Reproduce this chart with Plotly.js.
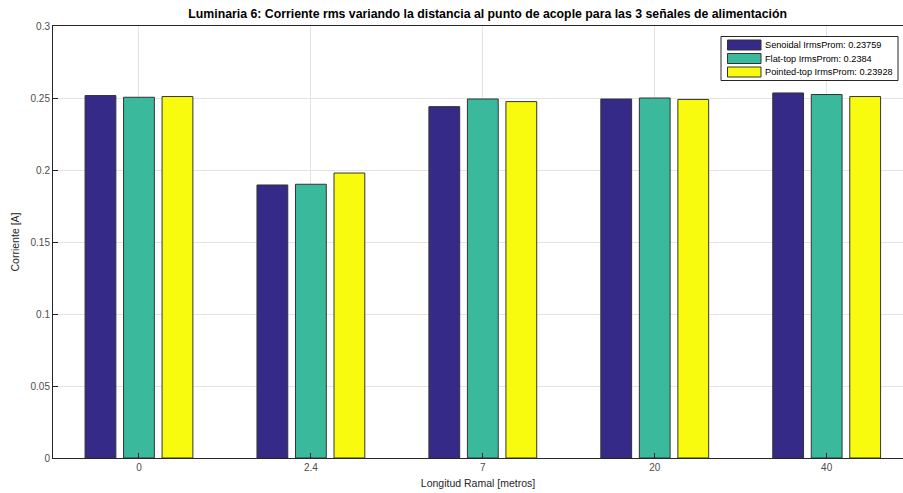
<!DOCTYPE html>
<html>
<head>
<meta charset="utf-8">
<script src="https://cdn.plot.ly/plotly-3.0.1.min.js"></script>
<style>html,body{margin:0;padding:0;background:#fff;}#chart{width:903px;height:493px;}</style>
</head>
<body>
<div id="chart"></div>
<script>
const categories = ["0", "2.4", "7", "20", "40"];
const senoidal = [0.2517, 0.1896, 0.2440, 0.2493, 0.2535];
const flatTop = [0.2505, 0.1901, 0.2493, 0.2500, 0.2524];
const pointedTop = [0.2510, 0.1979, 0.2475, 0.2490, 0.2510];
const seriesNames = ["Senoidal IrmsProm: 0.23759", "Flat-top IrmsProm: 0.2384", "Pointed-top IrmsProm: 0.23928"];
const seriesColors = ["#352a87", "#3bb99d", "#f9fb0e"];
const seriesValues = [senoidal, flatTop, pointedTop];

const traces = seriesValues.map((vals, i) => ({
  type: "bar",
  x: categories,
  y: vals,
  name: seriesNames[i],
  showlegend: false,
  marker: {color: seriesColors[i], line: {color: "#333333", width: 1}}
}));

// plot area geometry (pixels) for the legend box placement
const L = 53, T = 26, W = 850, H = 432;
const px = v => (v - L) / W;
const py = v => 1 - (v - T) / H;

const font = "Liberation Sans, Arial, sans-serif";
const shapes = [{type: "rect", xref: "paper", yref: "paper",
  x0: px(721), x1: px(898), y0: py(80.5), y1: py(36.5),
  fillcolor: "#ffffff", line: {color: "#262626", width: 1}, layer: "above"}];
const annotations = [];
const rowY = [45, 58.5, 72];
seriesNames.forEach((n, i) => {
  shapes.push({type: "rect", xref: "paper", yref: "paper",
    x0: px(727.5), x1: px(761), y0: py(rowY[i] + 5), y1: py(rowY[i] - 5),
    fillcolor: seriesColors[i], line: {color: "#333333", width: 1}, layer: "above"});
  annotations.push({xref: "paper", yref: "paper", x: px(763), y: py(rowY[i]),
    xanchor: "left", yanchor: "middle", showarrow: false, text: n,
    font: {family: font, size: 9.2, color: "#000000"}});
});

const layout = {
  width: 903, height: 493,
  margin: {l: L, r: 0, t: T, b: 35},
  paper_bgcolor: "#ffffff", plot_bgcolor: "#ffffff",
  barmode: "group", bargap: 0.328, bargroupgap: 0.2,
  font: {family: font, size: 10, color: "#4d4d4d"},
  title: {text: "<b>Luminaria 6: Corriente rms variando la distancia al punto de acople para las 3 señales de alimentación</b>",
          font: {family: font, size: 12.3, color: "#000000"},
          x: 0.54, xanchor: "center", yref: "container", y: 1 - 14/493, yanchor: "middle"},
  xaxis: {
    type: "category", range: [-0.5, 4.444],
    showgrid: true, gridcolor: "#e3e3e3", gridwidth: 1,
    showline: true, linecolor: "#262626", linewidth: 1, mirror: true,
    ticks: "inside", ticklen: 5, tickcolor: "#262626",
    tickfont: {family: font, size: 10, color: "#4d4d4d"},
    title: {text: "Longitud Ramal [metros]", font: {family: font, size: 10.5, color: "#262626"}, standoff: 7},
    zeroline: false
  },
  yaxis: {
    range: [0, 0.3], dtick: 0.05, tick0: 0,
    showgrid: true, gridcolor: "#e3e3e3", gridwidth: 1,
    showline: true, linecolor: "#262626", linewidth: 1, mirror: false,
    ticks: "inside", ticklen: 5, tickcolor: "#262626",
    tickfont: {family: font, size: 10, color: "#4d4d4d"},
    tickformat: "~g",
    title: {text: "Corriente [A]", font: {family: font, size: 10.5, color: "#262626"}, standoff: 8},
    zeroline: false
  },
  showlegend: false,
  shapes: shapes,
  annotations: annotations
};
Plotly.newPlot("chart", traces, layout, {displayModeBar: false, staticPlot: true});
</script>
</body>
</html>
